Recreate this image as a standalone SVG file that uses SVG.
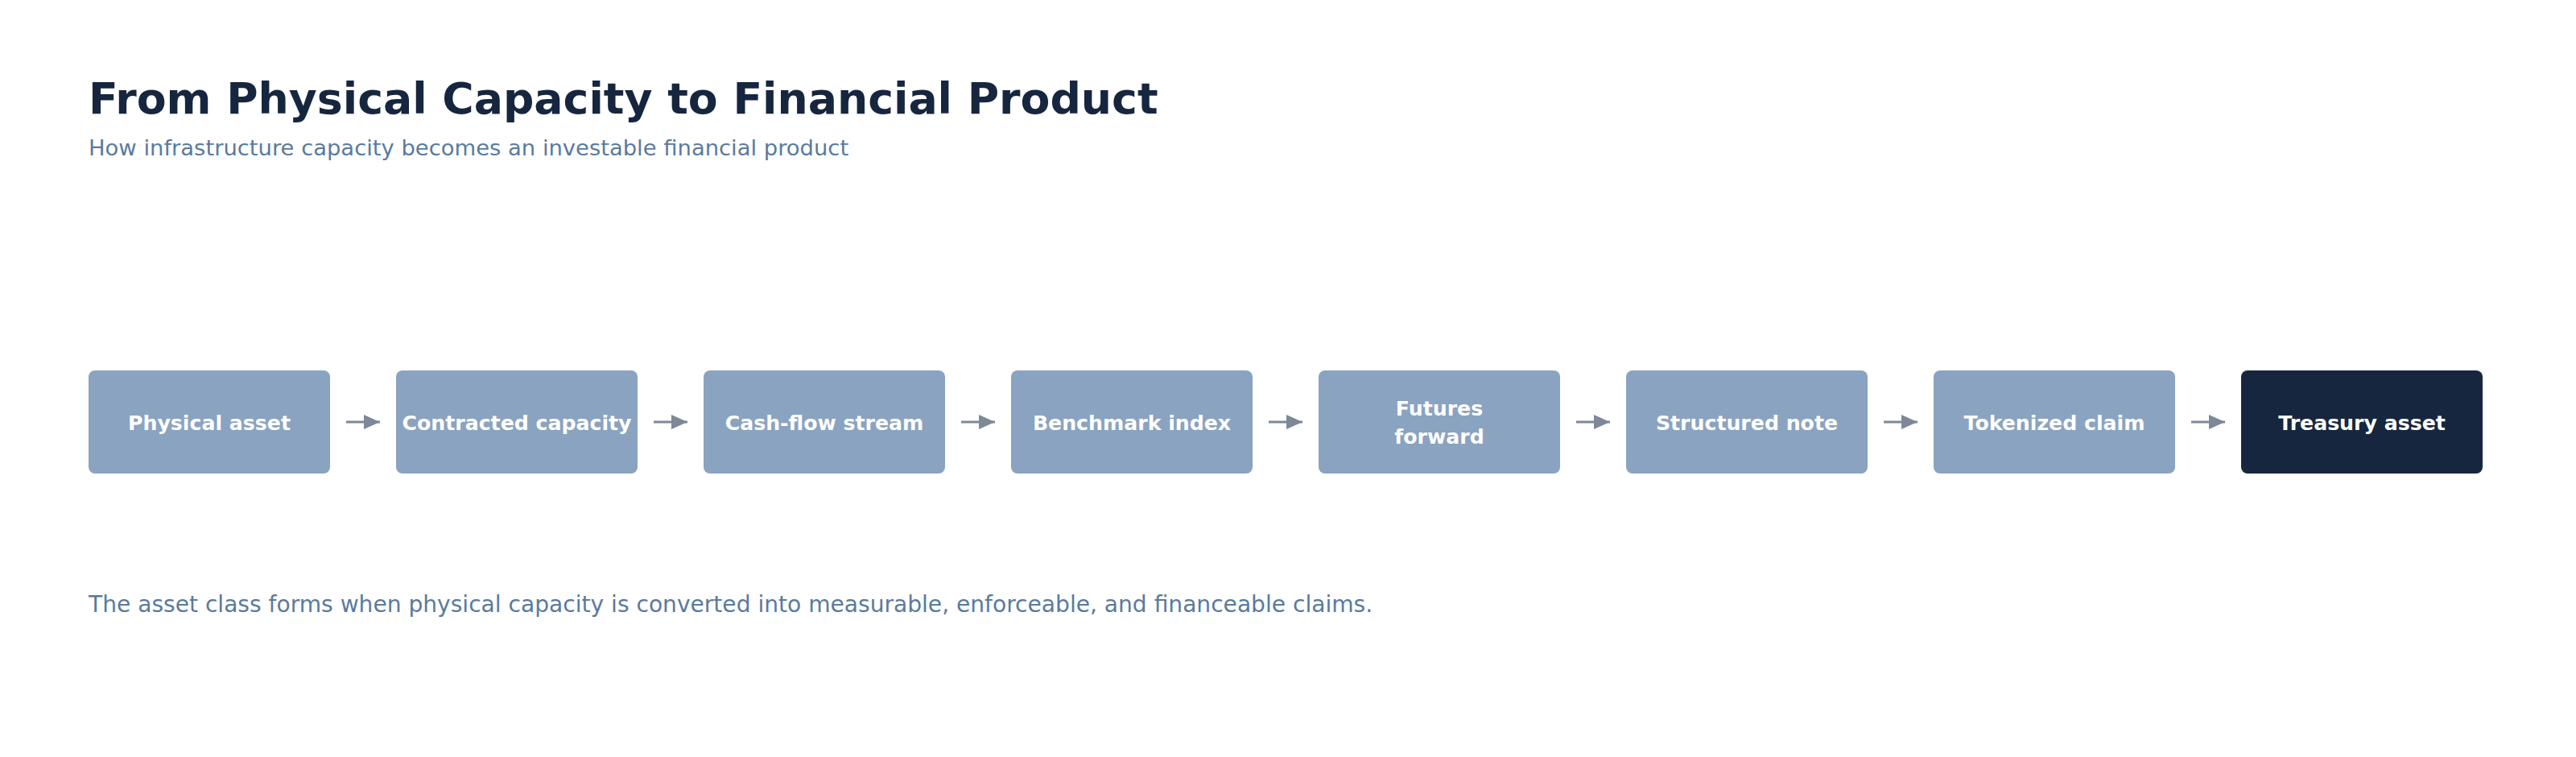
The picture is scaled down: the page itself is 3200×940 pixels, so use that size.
<svg xmlns="http://www.w3.org/2000/svg" width="3200" height="940" viewBox="0 0 3200 940">
<defs>
<style>
.title{font-family:"DejaVu Sans",sans-serif;font-weight:bold;font-size:53.7px;fill:#16263f}
.sub{font-family:"DejaVu Sans",sans-serif;font-size:27.4px;fill:#5a7a9e}
.foot{font-family:"DejaVu Sans",sans-serif;font-size:28.1px;fill:#5a7a9e}
.box{fill:#8aa3c0}
.boxd{fill:#16263f}
.lbl{font-family:"DejaVu Sans",sans-serif;font-weight:bold;font-size:25.2px;fill:#ffffff;text-anchor:middle}
.conn{stroke:#7d8899;stroke-width:3;fill:none}
</style>
<marker id="ah" markerWidth="20" markerHeight="18" refX="20" refY="9" orient="auto" markerUnits="userSpaceOnUse">
<path d="M0,0 L20,9 L0,18 Z" fill="#7d8899"/>
</marker>
</defs>
<rect width="3200" height="940" fill="#ffffff"/>
<text class="title" x="110" y="141">From Physical Capacity to Financial Product</text>
<text class="sub" x="110" y="193">How infrastructure capacity becomes an investable financial product</text>
<g id="connectors">
<line class="conn" x1="430" y1="524" x2="472" y2="524" marker-end="url(#ah)"/>
<line class="conn" x1="812" y1="524" x2="854" y2="524" marker-end="url(#ah)"/>
<line class="conn" x1="1194" y1="524" x2="1236" y2="524" marker-end="url(#ah)"/>
<line class="conn" x1="1576" y1="524" x2="1618" y2="524" marker-end="url(#ah)"/>
<line class="conn" x1="1958" y1="524" x2="2000" y2="524" marker-end="url(#ah)"/>
<line class="conn" x1="2340" y1="524" x2="2382" y2="524" marker-end="url(#ah)"/>
<line class="conn" x1="2722" y1="524" x2="2764" y2="524" marker-end="url(#ah)"/>
</g>
<g id="n1"><rect class="box" x="110" y="460" width="300" height="128" rx="8"/><text class="lbl" x="260" y="534">Physical asset</text></g>
<g id="n2"><rect class="box" x="492" y="460" width="300" height="128" rx="8"/><text class="lbl" x="642" y="534">Contracted capacity</text></g>
<g id="n3"><rect class="box" x="874" y="460" width="300" height="128" rx="8"/><text class="lbl" x="1024" y="534">Cash-flow stream</text></g>
<g id="n4"><rect class="box" x="1256" y="460" width="300" height="128" rx="8"/><text class="lbl" x="1406" y="534">Benchmark index</text></g>
<g id="n5"><rect class="box" x="1638" y="460" width="300" height="128" rx="8"/><text class="lbl" x="1788" y="516">Futures</text><text class="lbl" x="1788" y="551">forward</text></g>
<g id="n6"><rect class="box" x="2020" y="460" width="300" height="128" rx="8"/><text class="lbl" x="2170" y="534">Structured note</text></g>
<g id="n7"><rect class="box" x="2402" y="460" width="300" height="128" rx="8"/><text class="lbl" x="2552" y="534">Tokenized claim</text></g>
<g id="n8"><rect class="boxd" x="2784" y="460" width="300" height="128" rx="8"/><text class="lbl" x="2934" y="534">Treasury asset</text></g>
<text class="foot" x="110" y="760">The asset class forms when physical capacity is converted into measurable, enforceable, and financeable claims.</text>
</svg>
